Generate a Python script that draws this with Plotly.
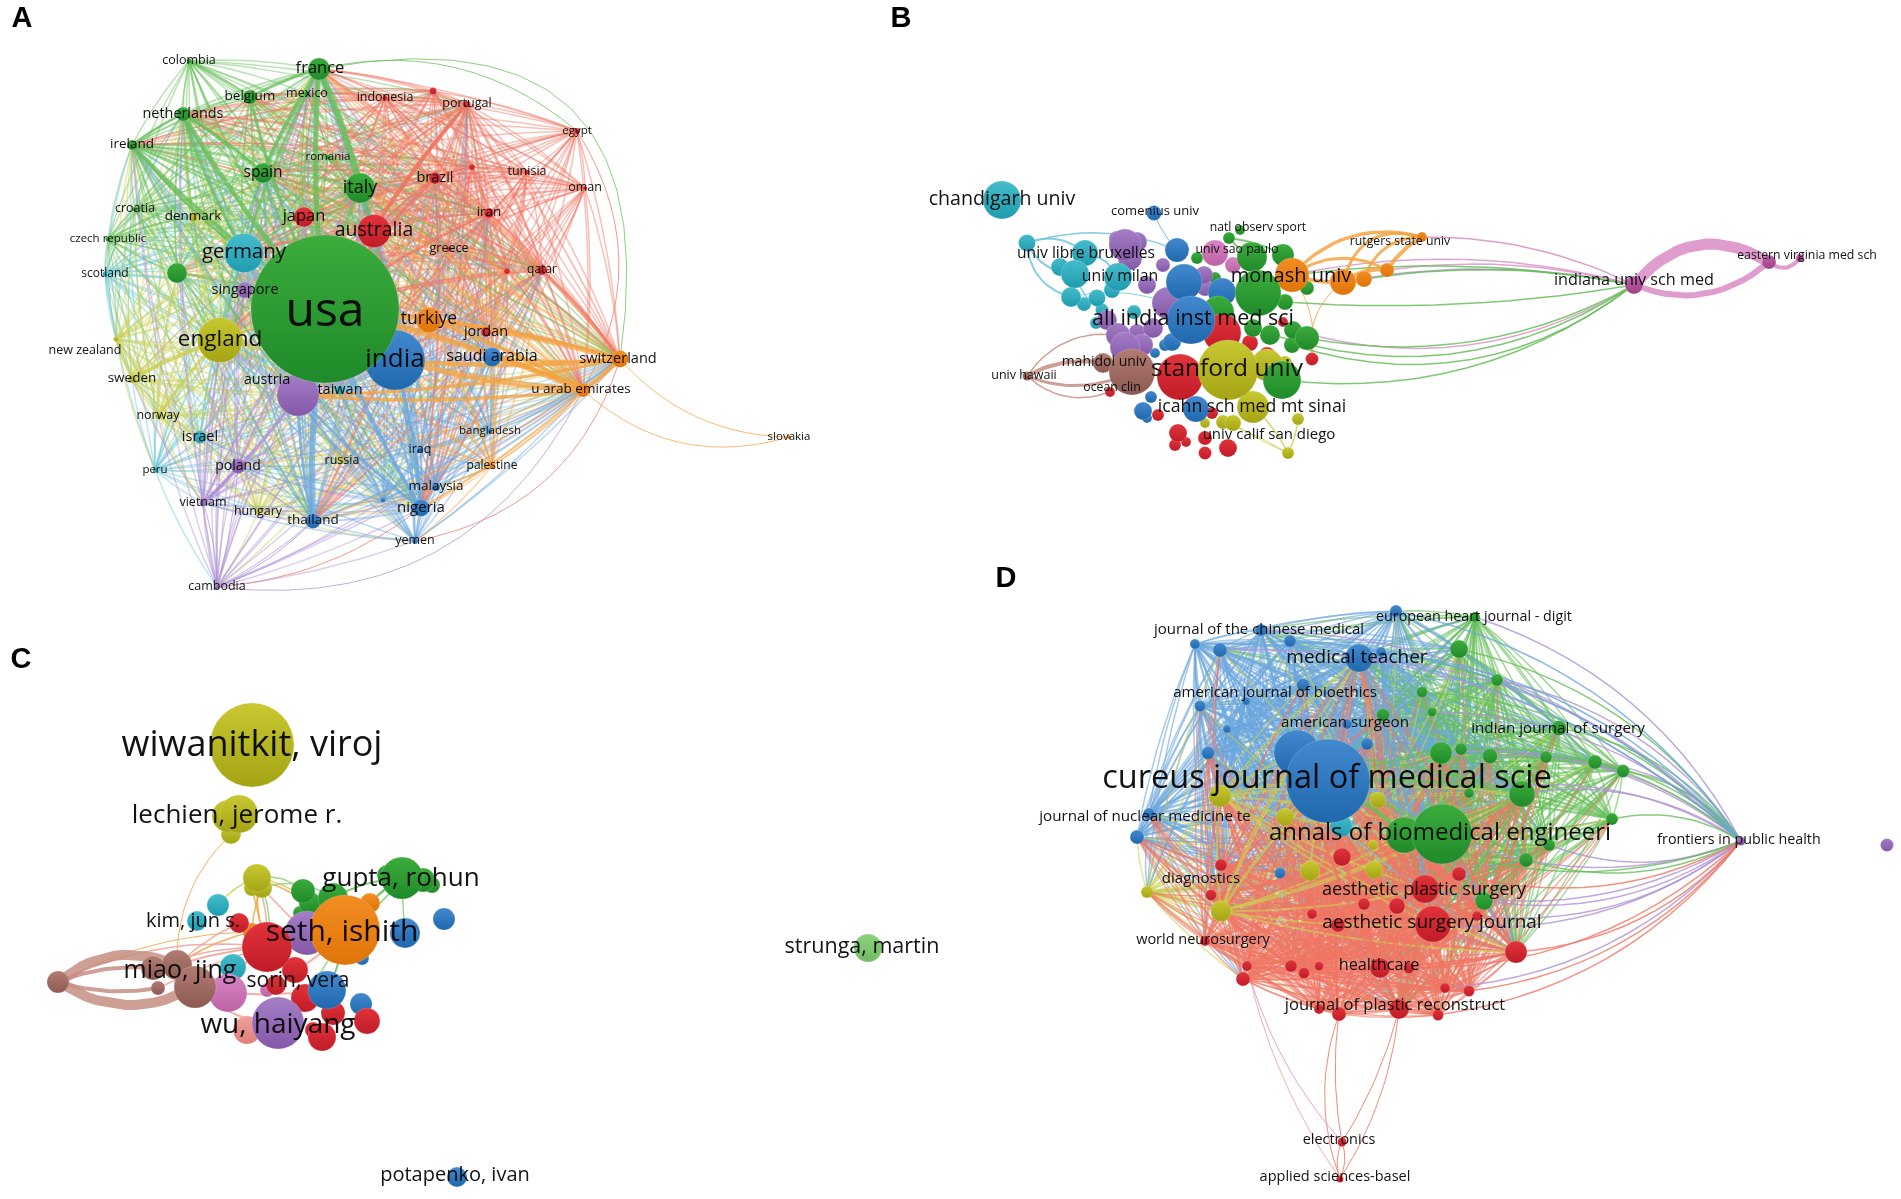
"""
Four VOSviewer style co-occurrence maps (countries, institutions, authors, journals).
"""

import numpy as np
import plotly.graph_objects as go

# Cluster colours (node colour, darker bottom colour, link colour)
node_colors = {
    'red': '#e2333a', 'green': '#3cac3c', 'blue': '#4389d0', 'yellow': '#c8c832',
    'purple': '#a47ec6', 'cyan': '#45bccb', 'orange': '#f28e22', 'brown': '#b27c72',
    'pink': '#d884c4', 'salmon': '#f0a09a', 'lime': '#8fd07f', 'magenta': '#c060a8',
}
dark_colors = {
    'red': '#c01c28', 'green': '#1f8a2a', 'blue': '#1f68ac', 'yellow': '#a4a414',
    'purple': '#8458a8', 'cyan': '#1f9cb0', 'orange': '#e07408', 'brown': '#8c5a52',
    'pink': '#bc62a6', 'salmon': '#e07f7a', 'lime': '#6fbc60', 'magenta': '#a04088',
}
link_colors = {
    'red': 'rgba(240,118,100,{a})', 'green': 'rgba(104,190,90,{a})', 'blue': 'rgba(108,166,222,{a})',
    'yellow': 'rgba(204,208,84,{a})', 'purple': 'rgba(176,146,212,{a})', 'cyan': 'rgba(110,200,218,{a})',
    'orange': 'rgba(244,164,68,{a})', 'brown': 'rgba(198,142,130,{a})', 'pink': 'rgba(218,150,200,{a})',
    'salmon': 'rgba(240,160,150,{a})', 'lime': 'rgba(140,208,124,{a})', 'magenta': 'rgba(216,140,196,{a})',
}

# Panel A: countries
a_x = [325, 395, 220, 244, 298, 374, 360, 319, 429, 304, 263, 177, 245, 492, 620, 583, 250, 183, 132, 189,
       307, 385, 433, 467, 577, 328, 435, 472, 527, 585, 489, 449, 542, 507, 486, 135, 193, 108, 105, 116,
       132, 158, 340, 200, 238, 155, 203, 258, 313, 342, 420, 490, 492, 436, 421, 415, 217, 789, 383]
a_y = [309, 360, 340, 253, 395, 231, 188, 69, 320, 217, 173, 273, 290, 357, 359, 390, 97, 114, 145, 61,
       94, 98, 91, 104, 131, 157, 178, 167, 172, 188, 213, 249, 270, 271, 332, 209, 217, 239, 274, 339,
       379, 416, 390, 437, 466, 470, 503, 512, 521, 461, 450, 431, 466, 487, 508, 541, 587, 437, 500]
a_size = [148, 60, 45, 39, 42, 33, 30, 22, 25, 20, 20, 20, 16, 19, 17, 14, 14, 14, 10, 5,
          6, 5, 7, 7, 6, 5, 12, 6, 5, 4, 10, 5, 10, 6, 10, 5, 9, 5, 5, 5,
          8, 6, 9, 13, 15, 5, 7, 5, 15, 5, 6, 5, 6, 8, 17, 6, 5, 4, 5]
a_cluster = ['green', 'blue', 'yellow', 'cyan', 'purple', 'red', 'green', 'green', 'orange', 'red',
             'green', 'green', 'purple', 'blue', 'orange', 'orange', 'green', 'green', 'green', 'green',
             'green', 'red', 'red', 'red', 'red', 'green', 'red', 'red', 'red', 'red',
             'red', 'red', 'red', 'red', 'red', 'green', 'yellow', 'green', 'cyan', 'yellow',
             'yellow', 'yellow', 'cyan', 'cyan', 'purple', 'cyan', 'purple', 'yellow', 'blue', 'yellow',
             'blue', 'blue', 'orange', 'blue', 'blue', 'blue', 'purple', 'orange', 'blue']
a_hubs = [0, 1, 2, 3, 4, 5, 6, 7, 10, 14, 15, 18, 17, 23, 26, 30, 32, 48, 54]
a_solo = [57]
a_strong = [(7, 6, 7), (7, 10, 4), (7, 0, 5), (7, 16, 3), (17, 0, 4.5), (18, 0, 3.5), (17, 10, 3), (18, 17, 2.5),
            (23, 0, 3.5), (26, 0, 3), (27, 26, 2), (15, 1, 6), (15, 0, 6), (14, 0, 5), (14, 15, 5), (14, 1, 4),
            (48, 0, 6), (54, 1, 3.5), (54, 0, 3), (46, 4, 3.5), (46, 44, 3), (40, 2, 4), (41, 2, 2.5), (39, 40, 1.5),
            (30, 0, 2), (32, 14, 3), (15, 8, 4), (15, 13, 4), (14, 13, 3), (14, 8, 3), (15, 4, 3), (14, 4, 3),
            (23, 5, 3), (26, 5, 2), (54, 4, 2), (48, 4, 3), (17, 3, 3), (18, 3, 2.5), (16, 0, 3), (19, 0, 1.5)]
a_arcs = [(7, 14, -0.7, 'green'), (7, 24, -0.25, 'green'), (14, 57, 0.22, 'orange'), (15, 57, 0.28, 'orange'),
          (55, 14, 0.3, 'red'), (56, 15, 0.35, 'purple'), (56, 54, 0.15, 'red'), (24, 15, -0.3, 'red'),
          (56, 46, 0.08, 'purple'), (56, 48, 0.1, 'purple'), (56, 44, 0.05, 'purple')]
a_labels = ['usa', 'india', 'england', 'germany', 'austria', 'australia', 'italy', 'france', 'turkiye', 'japan',
            'spain', 'singapore', 'saudi arabia', 'switzerland', 'u arab emirates', 'belgium', 'netherlands',
            'ireland', 'colombia', 'mexico', 'indonesia', 'portugal', 'egypt', 'romania', 'brazil', 'tunisia',
            'oman', 'iran', 'greece', 'qatar', 'jordan', 'croatia', 'denmark', 'czech republic', 'scotland',
            'new zealand', 'sweden', 'norway', 'taiwan', 'israel', 'poland', 'peru', 'vietnam', 'hungary',
            'thailand', 'russia', 'iraq', 'bangladesh', 'palestine', 'malaysia', 'nigeria', 'yemen', 'cambodia',
            'slovakia']
a_label_x = [325, 395, 220, 244, 267, 374, 360, 320, 429, 304, 263, 245, 492, 618, 581, 250, 183, 132, 189, 307,
             385, 467, 577, 328, 435, 527, 585, 489, 449, 542, 486, 135, 193, 108, 105, 85, 132, 158, 340, 200,
             238, 155, 203, 258, 313, 342, 420, 490, 492, 436, 421, 415, 217, 789]
a_label_y = [314, 360, 340, 253, 380, 231, 188, 69, 320, 217, 173, 290, 357, 359, 390, 97, 114, 145, 61, 94, 98,
             104, 131, 157, 178, 172, 188, 213, 249, 270, 332, 209, 217, 239, 274, 351, 379, 416, 390, 437, 466,
             470, 503, 512, 521, 461, 450, 431, 466, 487, 508, 541, 587, 437]
a_label_size = [48, 26, 22.5, 20.5, 14.5, 19.5, 18, 16.5, 17.5, 16.5, 15.5, 14.5, 16, 14.5, 13.5, 13.5, 14.4,
                13.5, 12.5, 12.5, 12.5, 12.5, 11.5, 11.5, 14.5, 12.5, 12.5, 13.5, 12.5, 12, 14.5, 12.5, 13.5,
                11.5, 12, 12.5, 13.5, 12.5, 14.5, 14.5, 14, 11.5, 12.5, 12.5, 13.5, 12.5, 12.5, 11.5, 12, 13.5,
                15, 12.5, 12.5, 11.5]

# Panel B: institutions
b_x = [1002, 1154, 1229, 1422, 1387, 1364, 1343, 1292,
       1027, 1085, 1075, 1060, 1118, 1112, 1071, 1097, 1084, 1102, 1134, 1096,
       1125, 1117, 1137, 1130, 1163, 1147, 1168, 1204, 1205, 1153, 1118, 1125, 1142, 1137, 1107,
       1177, 1184, 1191, 1222, 1172, 1143, 1151, 1196, 1155, 1165, 1147, 1222,
       1215, 1233,
       1252, 1283, 1258, 1218, 1215, 1307, 1293, 1292, 1270, 1253, 1282, 1285, 1307, 1197, 1240,
       1222, 1180, 1250, 1312, 1283, 1267, 1178, 1205, 1228, 1205, 1175, 1186, 1158, 1110, 1212,
       1228, 1267, 1253, 1223, 1233, 1298, 1288, 1205, 1285,
       1132, 1103, 1027,
       1634, 1769, 1800]
b_y = [200, 213, 238, 237, 270, 279, 282, 275,
       243, 253, 274, 267, 277, 290, 297, 298, 304, 310, 312, 323,
       245, 239, 242, 258, 265, 285, 303, 275, 288, 328, 335, 347, 345, 332, 320,
       250, 282, 320, 292, 342, 411, 397, 409, 353, 345, 418, 305,
       253, 265,
       257, 255, 293, 312, 278, 338, 330, 345, 335, 328, 380, 302, 288, 258, 230,
       333, 377, 343, 359, 322, 355, 433, 438, 448, 453, 445, 442, 415, 392, 413,
       370, 365, 407, 422, 423, 419, 453, 423, 363,
       372, 363, 376,
       285, 262, 258]
b_size = [38, 15, 12, 10, 14, 16, 26, 34,
          17, 26, 28, 18, 28, 16, 20, 17, 14, 13, 14, 12,
          32, 16, 20, 24, 14, 18, 32, 18, 16, 20, 24, 30, 22, 16, 20,
          24, 36, 48, 28, 18, 18, 12, 26, 10, 12, 10, 16,
          26, 16,
          30, 22, 46, 32, 12, 24, 18, 16, 20, 18, 38, 16, 14, 12, 10,
          38, 46, 16, 13, 10, 16, 18, 14, 18, 13, 12, 10, 12, 10, 12,
          60, 32, 32, 14, 16, 12, 12, 10, 14,
          46, 20, 9,
          18, 14, 8]
b_cluster = ['cyan', 'blue', 'green'] + ['orange'] * 5 + ['cyan'] * 12 + ['purple'] * 15 + ['blue'] * 12 + \
            ['pink'] * 2 + ['green'] * 15 + ['red'] * 15 + ['yellow'] * 9 + ['brown'] * 3 + ['magenta'] * 3
# source, target, width, bend, colour
b_arcs = [(91, 92, 11, -0.42, 'magenta'), (91, 92, 6, 0.3, 'magenta'), (92, 93, 4, 0.5, 'magenta'),
          (3, 91, 1.5, -0.12, 'magenta'), (7, 91, 1.5, -0.12, 'pink'), (6, 91, 1.4, -0.1, 'purple'),
          (5, 91, 1.4, -0.09, 'green'), (4, 91, 1.3, -0.1, 'pink'), (7, 91, 1.3, -0.08, 'green'),
          (54, 91, 1.6, 0.18, 'green'), (55, 91, 1.6, 0.22, 'pink'), (59, 91, 1.6, 0.2, 'green'),
          (58, 91, 1.6, 0.25, 'green'), (56, 91, 1.4, 0.26, 'green'), (60, 91, 1.3, 0.06, 'green'),
          (6, 3, 3, -0.5, 'orange'), (5, 3, 3, -0.35, 'orange'), (4, 3, 4, -0.12, 'orange'), (7, 3, 3.5, -0.3, 'orange'),
          (7, 4, 3, -0.3, 'orange'), (6, 4, 4, -0.2, 'orange'), (6, 5, 3, 0.2, 'orange'), (7, 6, 4, 0.1, 'orange'),
          (6, 67, 1.2, 0.3, 'orange'), (7, 67, 1.2, -0.2, 'orange'),
          (8, 9, 2, -0.3, 'cyan'), (8, 10, 2, 0.3, 'cyan'), (8, 14, 2, 0.35, 'cyan'), (9, 12, 2, -0.25, 'cyan'),
          (10, 17, 1.5, 0.2, 'cyan'), (1, 35, 1.2, 0.1, 'blue'), (8, 35, 1.5, -0.18, 'cyan'), (14, 26, 1.2, -0.15, 'cyan'),
          (2, 49, 2, 0.1, 'green'), (2, 50, 2, -0.1, 'green'),
          (90, 89, 4, -0.18, 'brown'), (90, 88, 3, 0.22, 'brown'), (90, 30, 1.4, -0.3, 'brown'), (90, 77, 1.4, 0.3, 'brown'),
          (85, 81, 1.5, 0.1, 'yellow'), (85, 84, 1.5, 0.1, 'yellow'), (85, 83, 1.2, -0.05, 'yellow'), (85, 82, 1.2, 0.05, 'yellow')]
b_labels = ['chandigarh univ', 'all india inst med sci', 'stanford univ', 'monash univ', 'icahn sch med mt sinai',
            'univ calif san diego', 'indiana univ sch med', 'eastern virginia med sch', 'univ libre bruxelles',
            'univ milan', 'comenius univ', 'natl observ sport', 'rutgers state univ', 'univ sao paulo',
            'mahidol univ', 'ocean clin', 'univ hawaii']
b_label_x = [1002, 1193, 1227, 1291, 1252, 1269, 1634, 1807, 1086, 1120, 1155, 1258, 1400, 1237, 1104, 1112, 1024]
b_label_y = [200, 320, 370, 277, 408, 435, 281, 256, 254, 277, 212, 228, 242, 250, 362, 388, 376]
b_label_size = [19.6, 21.5, 24.5, 20, 17.7, 15, 16.2, 12.3, 15.6, 15.8, 13, 12.2, 12.3, 12.3, 14, 12.3, 12.5]

# Panel C: authors
c_x = [252, 228, 239, 231, 257, 252, 262, 402, 423, 432, 387, 303, 310, 300, 333, 345, 370, 252, 307, 405, 444,
       362, 327, 361, 218, 197, 233, 267, 239, 295, 276, 305, 333, 367, 322, 313, 228, 267, 247, 278, 195, 177,
       153, 158, 58, 868, 457]
c_y = [745, 816, 814, 834, 878, 888, 888, 878, 880, 885, 875, 891, 903, 913, 898, 930, 903, 932, 933, 933, 919,
       958, 990, 1004, 905, 921, 967, 947, 923, 970, 985, 998, 1013, 1021, 1037, 1030, 993, 990, 1030, 1023, 987, 965,
       968, 988, 982, 948, 1177]
c_size = [84, 32, 38, 20, 28, 16, 20, 42, 24, 16, 20, 24, 22, 14, 30, 70, 20, 18, 44, 30, 22,
          14, 38, 22, 22, 20, 26, 50, 20, 26, 20, 28, 24, 26, 28, 16, 38, 14, 28, 52, 42, 30,
          24, 14, 22, 28, 20]
c_cluster = ['yellow'] * 7 + ['green'] * 8 + ['orange'] * 3 + ['purple'] + ['blue'] * 5 + ['cyan'] * 3 + \
            ['red'] * 9 + ['pink'] * 2 + ['salmon', 'purple'] + ['brown'] * 5 + ['lime', 'blue']
c_arcs = [(44, 41, 10, -0.3, 'brown'), (44, 40, 10, 0.3, 'brown'), (44, 42, 4, -0.12, 'brown'), (44, 43, 4, 0.12, 'brown'),
          (3, 41, 1.2, 0.22, 'orange'), (4, 27, 1.5, 0.1, 'orange'), (4, 27, 1.5, -0.1, 'salmon'), (5, 27, 1.5, 0.02, 'orange'),
          (6, 27, 1.5, -0.15, 'lime'), (6, 17, 1.5, 0.1, 'orange'), (4, 15, 1.5, -0.1, 'orange'), (4, 11, 1.5, -0.25, 'lime'),
          (4, 12, 1.5, -0.15, 'yellow'), (6, 14, 1.5, -0.25, 'lime'), (4, 24, 1.5, 0.15, 'yellow'), (6, 18, 1.5, 0.02, 'salmon'),
          (7, 15, 2.5, 0.1, 'green'), (7, 14, 2, 0.12, 'green'), (7, 15, 2, -0.1, 'lime'), (7, 19, 1.5, 0.02, 'lime'),
          (41, 27, 2, -0.06, 'salmon'), (42, 27, 1.5, -0.1, 'salmon'), (40, 27, 2, 0.1, 'salmon'), (41, 17, 1.5, -0.1, 'orange'),
          (43, 27, 1.5, -0.05, 'salmon'), (41, 28, 1.5, -0.08, 'salmon'), (44, 27, 1.5, -0.15, 'salmon'), (44, 17, 1.2, -0.12, 'orange'),
          (40, 36, 3, 0.1, 'salmon'), (40, 39, 2, 0.2, 'salmon'), (22, 15, 2, 0.1, 'green'), (29, 15, 2, 0.1, 'salmon'),
          (36, 22, 2, 0.05, 'salmon'), (39, 22, 2, -0.05, 'salmon'), (31, 15, 1.5, 0.02, 'lime')]
c_labels = ['wiwanitkit, viroj', 'lechien, jerome r.', 'gupta, rohun', 'seth, ishith', 'kim, jun s.', 'miao, jing',
            'sorin, vera', 'wu, haiyang', 'strunga, martin', 'potapenko, ivan']
c_label_x = [252, 237, 401, 342, 193, 180, 298, 278, 862, 455]
c_label_y = [747, 816, 879, 933, 922, 972, 982, 1026, 948, 1176]
c_label_size = [36, 26, 26, 30, 20, 25, 21, 28, 21.5, 20]

# Panel D: journals
d_x = [1328, 1297, 1341, 1442, 1404, 1441, 1461, 1490, 1546, 1595, 1623, 1522, 1612, 1549, 1526, 1484, 1559,
       1497, 1459, 1475, 1422, 1432, 1383, 1469, 1396, 1261, 1290, 1220, 1195, 1359, 1303, 1200, 1227, 1208,
       1367, 1246, 1149, 1137, 1280, 1347, 1381, 1220, 1285, 1378, 1373, 1310, 1374, 1147, 1221, 1342, 1221,
       1211, 1459, 1425, 1364, 1397, 1312, 1433, 1338, 1477, 1516, 1205, 1247, 1243, 1291, 1304, 1319, 1380,
       1409, 1445, 1469, 1319, 1339, 1399, 1438, 1342, 1340, 1741, 1887]
d_y = [781, 753, 826, 834, 835, 753, 749, 756, 757, 762, 771, 794, 819, 845, 860, 901, 728, 680, 649, 617,
       692, 712, 715, 793, 611, 630, 641, 650, 644, 658, 685, 706, 729, 753, 744, 701, 814, 837, 873, 724,
       652, 796, 817, 800, 845, 871, 870, 892, 911, 857, 865, 895, 874, 889, 904, 906, 914, 924, 925, 916,
       952, 941, 966, 979, 966, 973, 966, 968, 968, 988, 991, 1009, 1014, 1009, 1015, 1142, 1179, 841, 845]
d_size = [84, 46, 22, 60, 36, 22, 12, 15, 12, 14, 13, 26, 12, 12, 14, 18, 15, 12, 18, 10, 11, 9, 13, 10,
          12, 12, 12, 14, 10, 28, 13, 11, 8, 13, 12, 8, 12, 14, 11, 10, 10, 22, 18, 16, 10, 20, 18, 12,
          21, 18, 12, 11, 14, 28, 12, 16, 10, 36, 14, 10, 22, 10, 10, 14, 12, 11, 9, 20, 11, 10, 11, 10,
          14, 20, 11, 9, 7, 9, 13]
d_cluster = ['blue', 'blue', 'cyan'] + ['green'] * 21 + ['blue'] * 17 + ['yellow'] * 8 + ['red'] * 28 + ['purple', 'purple']
d_hubs = [0, 1, 3, 4, 11, 29, 41, 48, 53, 57, 60, 67, 73]
d_solo = [75, 76, 77, 78]
d_arcs = [(72, 76, 1.2, 0.18, 'red'), (72, 75, 1.2, 0.08, 'red'), (73, 75, 1.2, -0.08, 'red'), (73, 76, 1, -0.12, 'red'),
          (62, 75, 1, 0.12, 'pink'), (62, 76, 1, 0.1, 'salmon'), (75, 76, 1.2, 0.2, 'red'), (75, 76, 1.2, -0.2, 'red')]
d_labels = ['cureus journal of medical scie', 'annals of biomedical engineeri', 'medical teacher',
            'journal of the chinese medical', 'european heart journal - digit', 'american journal of bioethics',
            'american surgeon', 'indian journal of surgery', 'journal of nuclear medicine te',
            'frontiers in public health', 'diagnostics', 'aesthetic plastic surgery', 'aesthetic surgery journal',
            'world neurosurgery', 'healthcare', 'journal of plastic reconstruct', 'electronics',
            'applied sciences-basel']
d_label_x = [1327, 1440, 1357, 1259, 1474, 1275, 1345, 1558, 1145, 1739, 1201, 1424, 1432, 1203, 1379, 1395, 1339, 1335]
d_label_y = [780, 834, 658, 630, 617, 693, 723, 729, 817, 840, 879, 890, 923, 940, 966, 1006, 1140, 1177]
d_label_size = [32.5, 24, 19, 15, 14.3, 15, 15.2, 15.2, 15.2, 14.3, 15, 18.2, 19, 14.5, 16.3, 16.5, 14.4, 14.5]

panel_letters = ['A', 'B', 'C', 'D']
letter_x = [22, 901, 21, 1006]
letter_y = [20, 20, 661, 580]


def curve(x0, y0, x1, y1, bend):
    # quadratic bezier between two nodes, bend is a fraction of the chord length
    mx, my = (x0 + x1) / 2, (y0 + y1) / 2
    qx, qy = mx - (y1 - y0) * bend, my + (x1 - x0) * bend
    t = np.linspace(0, 1, 15)
    xs = (1 - t) ** 2 * x0 + 2 * t * (1 - t) * qx + t ** 2 * x1
    ys = (1 - t) ** 2 * y0 + 2 * t * (1 - t) * qy + t ** 2 * y1
    return list(xs) + [None], list(ys) + [None]


def outward(xs, ys, i, j, bend, cx, cy):
    # pick the bow direction that points away from the middle of the map
    mx, my = (xs[i] + xs[j]) / 2, (ys[i] + ys[j]) / 2
    nx, ny = -(ys[j] - ys[i]), xs[j] - xs[i]
    return bend if nx * (mx - cx) + ny * (my - cy) > 0 else -bend


def add_links(fig, groups):
    # one trace per colour and width, thin ones first
    for (color, width) in sorted(groups, key=lambda k: k[1]):
        px, py = groups[(color, width)]
        fig.add_trace(go.Scatter(x=px, y=py, mode='lines', hoverinfo='skip',
                                 line=dict(color=color, width=width, shape='linear')))


def put(groups, xs, ys, i, j, width, bend, cluster, alpha):
    key = (link_colors[cluster].format(a=alpha), round(width * 2) / 2)
    px, py = curve(xs[i], ys[i], xs[j], ys[j], bend)
    groups.setdefault(key, ([], []))
    groups[key][0].extend(px)
    groups[key][1].extend(py)


def dense_links(xs, ys, size, cluster, hubs, solo, strong, center, reach, alpha, thin):
    # hubs link to everything, clusters link inside themselves, neighbours link to each other
    groups = {}
    n = len(xs)
    for i in range(n):
        for j in range(i + 1, n):
            if i in solo or j in solo:
                continue
            dist = np.hypot(xs[i] - xs[j], ys[i] - ys[j])
            if i in hubs or j in hubs or cluster[i] == cluster[j] or dist < reach:
                small = i if size[i] <= size[j] else j
                width = max(thin, min(2.5, np.sqrt(size[i] * size[j]) / 20))
                if i in hubs and j in hubs:
                    width = min(4, width * 1.5)
                put(groups, xs, ys, i, j, width, outward(xs, ys, i, j, 0.06, *center), cluster[small], alpha)
    for i, j, width in strong:
        small = i if size[i] <= size[j] else j
        put(groups, xs, ys, i, j, width, outward(xs, ys, i, j, 0.05, *center), cluster[small], 0.7)
    return groups


def add_nodes(fig, xs, ys, size, cluster):
    order = np.argsort(size, kind='stable')
    fig.add_trace(go.Scatter(
        x=[xs[i] for i in order], y=[ys[i] for i in order], mode='markers', hoverinfo='skip',
        marker=dict(
            size=[size[i] for i in order],
            color=[node_colors[cluster[i]] for i in order],
            gradient=dict(type='vertical', color=[dark_colors[cluster[i]] for i in order]),
            line=dict(color='rgba(255,255,255,0.35)', width=0.5),
            opacity=1,
        ),
    ))


def add_labels(fig, text, xs, ys, sizes):
    fig.add_trace(go.Scatter(
        x=xs, y=ys, text=text, mode='text', textposition='middle center', hoverinfo='skip',
        textfont=dict(family='Open Sans', size=sizes, color='rgba(5,5,5,0.95)'),
    ))


fig = go.Figure()

# Panel A
groups_a = dense_links(a_x, a_y, a_size, a_cluster, a_hubs, a_solo, a_strong, (340, 320), 220, 0.45, 1.5)
for i, j, bend, cl in a_arcs:
    put(groups_a, a_x, a_y, i, j, 1, bend, cl, 0.75)
add_links(fig, groups_a)
add_nodes(fig, a_x, a_y, a_size, a_cluster)
add_labels(fig, a_labels, a_label_x, a_label_y, a_label_size)

# Panel B
groups_b = {}
for i, j, width, bend, cl in b_arcs:
    put(groups_b, b_x, b_y, i, j, width, bend, cl, 0.85)
add_links(fig, groups_b)
add_nodes(fig, b_x, b_y, b_size, b_cluster)
add_labels(fig, b_labels, b_label_x, b_label_y, b_label_size)

# Panel C
groups_c = {}
for i, j, width, bend, cl in c_arcs:
    put(groups_c, c_x, c_y, i, j, width, bend, cl, 0.85)
add_links(fig, groups_c)
add_nodes(fig, c_x, c_y, c_size, c_cluster)
add_labels(fig, c_labels, c_label_x, c_label_y, c_label_size)

# Panel D
groups_d = dense_links(d_x, d_y, d_size, d_cluster, d_hubs, d_solo, [], (1350, 820), 260, 0.6, 1.5)
for j in range(len(d_x) - 4):
    if d_x[j] > 1400 or d_y[j] < 680:
        put(groups_d, d_x, d_y, 77, j, 1.5, outward(d_x, d_y, 77, j, 0.2, 1350, 820),
            'purple' if j % 2 else d_cluster[j], 0.8)
for i, j, width, bend, cl in d_arcs:
    put(groups_d, d_x, d_y, i, j, width, bend, cl, 0.85)
add_links(fig, groups_d)
add_nodes(fig, d_x, d_y, d_size, d_cluster)
add_labels(fig, d_labels, d_label_x, d_label_y, d_label_size)

# Panel letters
fig.add_trace(go.Scatter(
    x=letter_x, y=letter_y, text=[f'<b>{p}</b>' for p in panel_letters], mode='text', hoverinfo='skip',
    textposition='middle center', textfont=dict(family='Liberation Sans', size=29, color='#000000'),
))

fig.update_layout(
    width=1901,
    height=1199,
    margin=dict(l=0, r=0, t=0, b=0),
    showlegend=False,
    plot_bgcolor='white',
    paper_bgcolor='white',
    xaxis=dict(range=[0, 1901], visible=False, fixedrange=True),
    yaxis=dict(range=[1199, 0], visible=False, fixedrange=True),
)

# the source picture is a soft upscaled raster, so take the edge off slightly
soften = "document.body.style.margin='0';document.querySelector('.plot-container').style.filter='blur(0.5px)';"
fig.write_html("out.html", config={'displayModeBar': False}, post_script=soften)
